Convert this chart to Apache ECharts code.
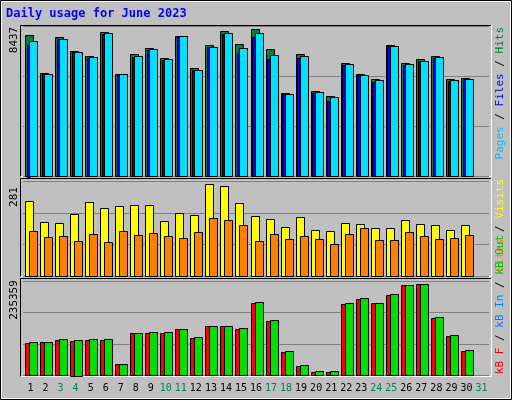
<!DOCTYPE html>
<html><head><meta charset="utf-8">
<script src="https://cdn.jsdelivr.net/npm/echarts@6/dist/echarts.min.js"></script>
<style>html,body{margin:0;padding:0;background:#C0C0C0}#c{width:512px;height:400px}</style>
</head><body><div id="c"></div><script>
const days = Array.from({length:31},(_,i)=>String(i+1));
const weekendDays = ['3','4','10','11','17','18','24','25','31'];
const hits  = [8094,5918,7980,7178,6891,8266,5861,7006,7350,6777,8037,6204,7521,8323,7579,8437,7292,4773,7006,4887,4601,6491,5861,5574,7521,6491,6720,6891,5574,5632];
const files = [7751,5861,7865,7121,6834,8209,5861,6891,7292,6720,8037,6090,7407,8209,7350,8209,6949,4715,6891,4830,4543,6433,5803,5517,7464,6433,6605,6834,5517,5574];
const pages = [7540,5861,7865,7121,6777,8151,5861,6834,7235,6662,8037,6090,7407,8151,7063,7980,6720,4715,6777,4773,4314,6376,5803,5402,7464,6376,6605,6777,5460,5574];
const visits = [229,165,162,189,226,208,214,217,217,168,192,186,281,275,223,183,174,150,180,140,137,162,159,147,147,171,159,156,140,156];
const sites  = [137,119,122,107,128,104,137,125,131,122,116,134,177,171,156,107,128,113,122,113,98,128,147,110,110,134,122,113,116,125];
const kbF   = [82464,85041,90195,89500,90195,90195,28347,108234,108234,108234,118542,95349,126273,126273,118542,185544,139158,59271,23193,7731,7731,182967,195852,185544,206160,231930,234507,146889,100503,61848];
const kbOut = [85041,85041,92772,92000,92772,92772,28347,108234,110811,110811,118542,97926,126273,126273,121119,188121,141735,61848,25770,10308,10308,185544,198429,185544,208737,231930,235359,149466,103080,64425];
const maxLabels = ['8437','281','235359'];
const title = 'Daily usage for June 2023';

const chart = echarts.init(document.getElementById('c'));
function rows(a,b,c){return a.map((v,i)=>c?[i,v,b[i],c[i]]:[i,v,b[i]]);}
function makeRender(colors){
  return function(params, api){
    const i = api.value(0);
    const base = api.coord([i,0]);
    const cx = base[0];
    const specs = colors.length===3
      ? [{dx:-5.5,w:8,v:api.value(1),c:colors[0]},{dx:-3.8,w:3,v:api.value(3),c:colors[1]},{dx:-1.5,w:8,v:api.value(2),c:colors[2]}]
      : [{dx:-5.5,w:8,v:api.value(1),c:colors[0]},{dx:-1.5,w:8,v:api.value(2),c:colors[1]}];
    const children = specs.map(s=>{
      const top = api.coord([i,s.v])[1];
      return {type:'rect',shape:{x:Math.round(cx+s.dx)+0.5,y:Math.round(top)+0.5,width:s.w,height:Math.round(base[1]-top)},
        style:{fill:s.c,stroke:'#000',lineWidth:1}};
    });
    return {type:'group',children};
  };
}
const gridsDef=[{top:26.7,height:150,max:8589,interval:2863},{top:181,height:95.3,max:291,interval:97},{top:280.8,height:94.5,max:243600,interval:81200}];
const grids = gridsDef.map(g=>({left:23,width:466,top:g.top,height:g.height}));
const xAxes = gridsDef.map((g,k)=>({type:'category',gridIndex:k,data:days,
  axisLine:{show:false},axisTick:{show:false},
  axisLabel:{show:k===2,interval:0,fontFamily:'DejaVu Sans Mono',fontSize:10,margin:8,
    color:(v)=>weekendDays.includes(v)?'#00805C':'#000'}}));
const yAxes = gridsDef.map((g,k)=>({type:'value',gridIndex:k,min:0,max:g.max,interval:g.interval,
  axisLabel:{show:false},axisLine:{show:false},axisTick:{show:false},
  splitLine:{show:true,lineStyle:{color:'#808080',width:1}}}));
chart.setOption({
  animation:false,
  backgroundColor:'#C0C0C0',
  grid:grids,xAxis:xAxes,yAxis:yAxes,
  graphic:[
    {type:'rect',shape:{x:0.5,y:0.5,width:511,height:399},style:{fill:'none',stroke:'#000',lineWidth:1},z:-1},
    {type:'rect',shape:{x:1.5,y:1.5,width:509,height:397},style:{fill:'none',stroke:'#fff',lineWidth:1},z:-1},
    ...[[25,177],[178,277],[278,377]].map(p=>({type:'group',silent:true,z:-1,children:[
      {type:'polyline',shape:{points:[[20.5,p[1]],[20.5,p[0]+0.5],[491,p[0]+0.5]]},style:{stroke:'#000',lineWidth:1,fill:'none'}},
      {type:'polyline',shape:{points:[[20.5,p[1]-0.5],[491.5,p[1]-0.5],[491.5,p[0]]]},style:{stroke:'#fff',lineWidth:1,fill:'none'}}]})),
    {type:'text',left:6,top:8,style:{text:title,font:'bold 12px "DejaVu Sans Mono"',fill:'#0000FF'}},
    {type:'text',x:14,y:40,rotation:Math.PI/2,style:{text:maxLabels[0],font:'11px "DejaVu Sans Mono"',fill:'#000',align:'center',verticalAlign:'middle'}},
    {type:'text',x:14,y:197,rotation:Math.PI/2,style:{text:maxLabels[1],font:'11px "DejaVu Sans Mono"',fill:'#000',align:'center',verticalAlign:'middle'}},
    {type:'text',x:14,y:300,rotation:Math.PI/2,style:{text:maxLabels[2],font:'11px "DejaVu Sans Mono"',fill:'#000',align:'center',verticalAlign:'middle'}},
    {type:'text',x:500,y:27,rotation:Math.PI/2,style:{rich:{p:{fill:'#00C0FF',font:'11px "DejaVu Sans Mono"'},s:{fill:'#000',font:'11px "DejaVu Sans Mono"'},f:{fill:'#0000FF',font:'11px "DejaVu Sans Mono"'},h:{fill:'#008040',font:'11px "DejaVu Sans Mono"'}},
      text:'{p|Pages}{s| / }{f|Files}{s| / }{h|Hits}',align:'right',verticalAlign:'middle'}},
    {type:'text',x:500,y:179,rotation:Math.PI/2,style:{rich:{o:{fill:'#FF8000',font:'11px "DejaVu Sans Mono"'},s:{fill:'#000',font:'11px "DejaVu Sans Mono"'},v:{fill:'#FFFF00',font:'11px "DejaVu Sans Mono"'}},
      text:'{o|Sites}{s| / }{v|Visits}',align:'right',verticalAlign:'middle'}},
    {type:'text',x:500,y:235,rotation:Math.PI/2,style:{rich:{r:{fill:'#FF0000',font:'11px "DejaVu Sans Mono"'},s:{fill:'#000',font:'11px "DejaVu Sans Mono"'},b:{fill:'#0080FF',font:'11px "DejaVu Sans Mono"'},g:{fill:'#00C000',font:'11px "DejaVu Sans Mono"'}},
      text:'{r|kB F}{s| / }{b|kB In}{s| / }{g|kB Out}',align:'right',verticalAlign:'middle'}}
  ],
  series:[
    {type:'custom',xAxisIndex:0,yAxisIndex:0,renderItem:makeRender(['#008040','#0000FF','#00E0FF']),data:rows(hits,files,pages)},
    {type:'custom',xAxisIndex:1,yAxisIndex:1,renderItem:makeRender(['#FFFF00','#FF8000']),data:rows(visits,sites)},
    {type:'custom',xAxisIndex:2,yAxisIndex:2,renderItem:makeRender(['#FF0000','#00E000']),data:rows(kbF,kbOut)}
  ]
});
</script></body></html>
